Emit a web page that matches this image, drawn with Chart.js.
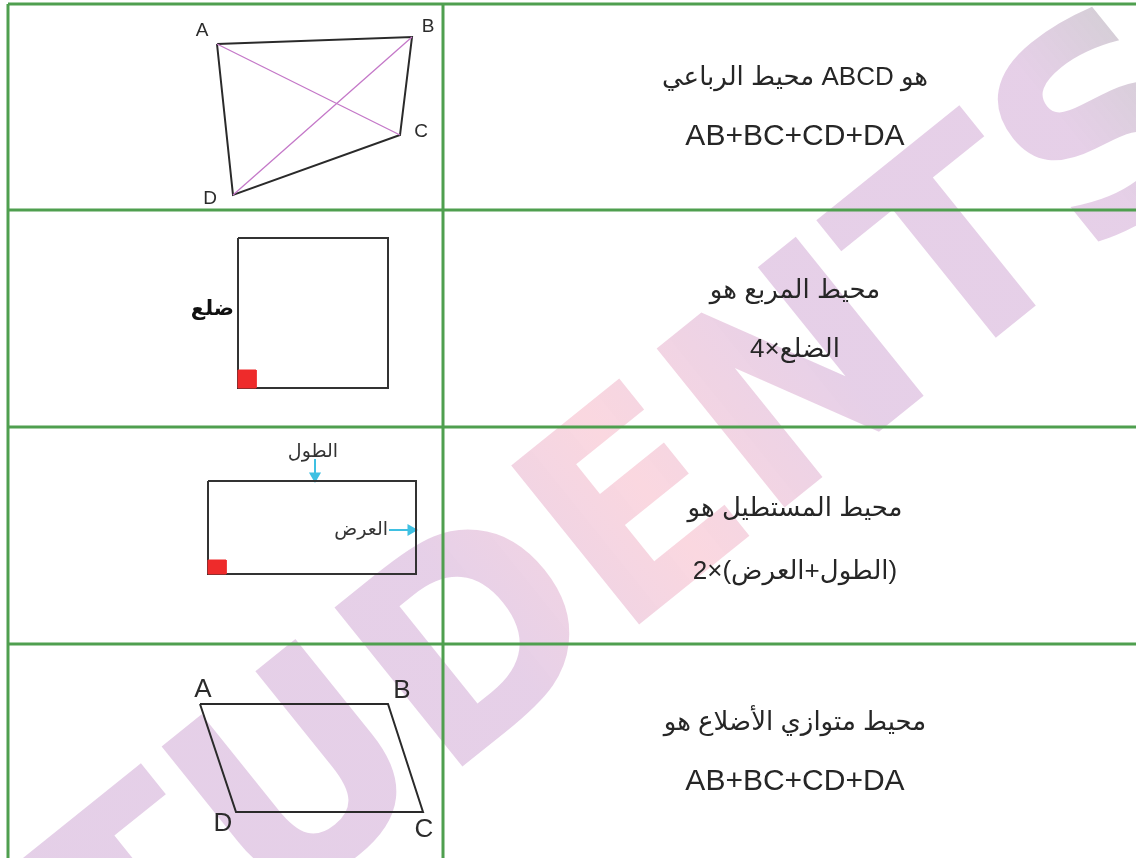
<!DOCTYPE html>
<html>
<head>
<meta charset="utf-8">
<script src="https://cdn.jsdelivr.net/npm/chart.js@4/dist/chart.umd.min.js"></script>
<style>
  html, body { margin: 0; padding: 0; background: #ffffff; }
  #wrap { position: relative; width: 1136px; height: 858px; }
</style>
</head>
<body>
<div id="wrap"><canvas id="c"></canvas></div>
<script>
// ---- table grid (green rules) ----
const gridRowLines = [4, 210, 427, 644];      // horizontal rules (y)
const gridColLines = [8, 443];                // vertical rules (x)

// ---- row 1: quadrilateral ABCD ----
const quadX = [217, 412, 400, 233, 217];
const quadY = [44, 37, 135, 195, 44];
const diagAC_X = [217, 400], diagAC_Y = [44, 135];
const diagBD_X = [412, 233], diagBD_Y = [37, 195];

// ---- row 2: square ----
const squareX = [238, 388, 388, 238, 238];
const squareY = [238, 238, 388, 388, 238];
const squareMarkX = [238, 256, 256, 238, 238];
const squareMarkY = [370, 370, 388, 388, 370];

// ---- row 3: rectangle ----
const rectX = [208, 416, 416, 208, 208];
const rectY = [481, 481, 574, 574, 481];
const rectMarkX = [208, 226, 226, 208, 208];
const rectMarkY = [560, 560, 574, 574, 560];
const arrowLenX = [315, 315], arrowLenY = [459, 476];
const arrowWidX = [389, 411], arrowWidY = [530, 530];

// ---- row 4: parallelogram ----
const paraX = [200, 388, 423, 236, 200];
const paraY = [704, 704, 812, 812, 704];

// ---- texts ----
const vertexLabels = [
  ['A', 202, 31, 19], ['B', 428, 27, 19], ['C', 421, 132, 19], ['D', 210, 199, 19],
  ['A', 203, 690, 26], ['B', 402, 691, 26], ['D', 223, 824, 26], ['C', 424, 830, 26]
];
const figureLabels = [
  ['ضلع', 234, 310, 'right'],
  ['الطول', 313, 452, 'center'],
  ['العرض', 388, 530, 'right']
];
const formulaLines = [
  ['محيط الرباعي ABCD هو', 78, 'ltr'],
  ['AB+BC+CD+DA', 137, 'ltr'],
  ['محيط المربع هو', 291, 'rtl'],
  ['الضلع×4', 350, 'rtl'],
  ['محيط المستطيل هو', 509, 'rtl'],
  ['(الطول+العرض)×2', 572, 'rtl'],
  ['محيط متوازي الأضلاع هو', 723, 'rtl'],
  ['AB+BC+CD+DA', 782, 'ltr']
];
const watermarkText = 'STUDENTS';

function pts(xs, ys) { return xs.map((x, i) => ({ x: x, y: ys[i] })); }

const datasets = [];
gridRowLines.forEach(y => datasets.push({ data: pts([8, 1136], [y, y]), borderColor: '#4f9f4f', borderWidth: 3 }));
gridColLines.forEach(x => datasets.push({ data: pts([x, x], [4, 858]), borderColor: '#4f9f4f', borderWidth: 3 }));
datasets.push({ data: pts(diagAC_X, diagAC_Y), borderColor: '#c478c8', borderWidth: 1.3 });
datasets.push({ data: pts(diagBD_X, diagBD_Y), borderColor: '#c478c8', borderWidth: 1.3 });
datasets.push({ data: pts(quadX, quadY), borderColor: '#2a2a2a', borderWidth: 2 });
datasets.push({ data: pts(squareMarkX, squareMarkY), borderColor: '#ee2b2b', backgroundColor: '#ee2b2b', borderWidth: 1, fill: 'shape' });
datasets.push({ data: pts(squareX, squareY), borderColor: '#333333', borderWidth: 2 });
datasets.push({ data: pts(rectMarkX, rectMarkY), borderColor: '#ee2b2b', backgroundColor: '#ee2b2b', borderWidth: 1, fill: 'shape' });
datasets.push({ data: pts(rectX, rectY), borderColor: '#333333', borderWidth: 2 });
datasets.push({ data: pts(arrowLenX, arrowLenY), borderColor: '#3fc0e2', borderWidth: 2,
  pointRadius: [0, 5], pointStyle: 'triangle', rotation: 180, pointBackgroundColor: '#3fc0e2', pointBorderColor: '#3fc0e2' });
datasets.push({ data: pts(arrowWidX, arrowWidY), borderColor: '#3fc0e2', borderWidth: 2,
  pointRadius: [0, 5], pointStyle: 'triangle', rotation: 90, pointBackgroundColor: '#3fc0e2', pointBorderColor: '#3fc0e2' });
datasets.push({ data: pts(paraX, paraY), borderColor: '#2a2a2a', borderWidth: 2 });
datasets.forEach(d => { d.showLine = true; d.tension = 0; if (d.pointRadius === undefined) d.pointRadius = 0; d.fill = d.fill || false; d.clip = false; });

const watermarkPlugin = {
  id: 'watermark',
  beforeDatasetsDraw(chart) {
    const ctx = chart.ctx, sx = chart.scales.x, sy = chart.scales.y;
    ctx.save();
    ctx.translate(sx.getPixelForValue(561), sy.getPixelForValue(594));
    ctx.rotate(-38.8 * Math.PI / 180);
    ctx.font = "bold 280px 'DejaVu Sans', sans-serif";
    const w = ctx.measureText(watermarkText).width;
    ctx.scale(1630 / w, 1);
    const g = ctx.createLinearGradient(-w / 2, 0, w / 2, 0);
    g.addColorStop(0, 'rgba(150,70,165,0.26)');
    g.addColorStop(0.45, 'rgba(158,72,165,0.26)');
    g.addColorStop(0.58, 'rgba(235,90,125,0.24)');
    g.addColorStop(0.72, 'rgba(158,72,165,0.26)');
    g.addColorStop(0.92, 'rgba(158,72,165,0.26)');
    g.addColorStop(1, 'rgba(110,105,115,0.32)');
    ctx.fillStyle = g;
    ctx.textAlign = 'center';
    ctx.textBaseline = 'middle';
    ctx.fillText(watermarkText, 0, 0);
    ctx.restore();
  }
};

const textPlugin = {
  id: 'texts',
  afterDatasetsDraw(chart) {
    const ctx = chart.ctx, sx = chart.scales.x, sy = chart.scales.y;
    ctx.save();
    ctx.textBaseline = 'middle';
    ctx.fillStyle = '#2b2b2b';
    vertexLabels.forEach(([t, x, y, s]) => {
      ctx.font = s + "px 'Liberation Sans', 'DejaVu Sans', sans-serif";
      ctx.textAlign = 'center';
      ctx.direction = 'ltr';
      ctx.fillText(t, sx.getPixelForValue(x), sy.getPixelForValue(y));
    });
    figureLabels.forEach(([t, x, y, a], i) => {
      ctx.font = (i === 0 ? "bold 21px" : "19px") + " 'DejaVu Sans', sans-serif";
      ctx.direction = 'rtl';
      ctx.textAlign = a;
      ctx.fillStyle = i === 0 ? '#111' : '#333';
      ctx.fillText(t, sx.getPixelForValue(x), sy.getPixelForValue(y));
    });
    ctx.fillStyle = '#262626';
    formulaLines.forEach(([t, y, dir]) => {
      const latin = (t === 'AB+BC+CD+DA');
      ctx.font = (latin ? "30px" : "26px") + " 'Liberation Sans', 'DejaVu Sans', sans-serif";
      ctx.direction = dir;
      ctx.textAlign = 'center';
      ctx.fillText(t, sx.getPixelForValue(795), sy.getPixelForValue(y));
    });
    ctx.restore();
  }
};

new Chart(document.getElementById('c'), {
  type: 'scatter',
  data: { datasets: datasets },
  options: {
    responsive: true,
    maintainAspectRatio: false,
    animation: false,
    events: [],
    layout: { padding: 0, autoPadding: false },
    plugins: { legend: { display: false }, tooltip: { enabled: false } },
    scales: {
      x: { type: 'linear', min: 0, max: 1136, display: false },
      y: { type: 'linear', min: 0, max: 858, reverse: true, display: false }
    }
  },
  plugins: [watermarkPlugin, textPlugin]
});
</script>
</body>
</html>
